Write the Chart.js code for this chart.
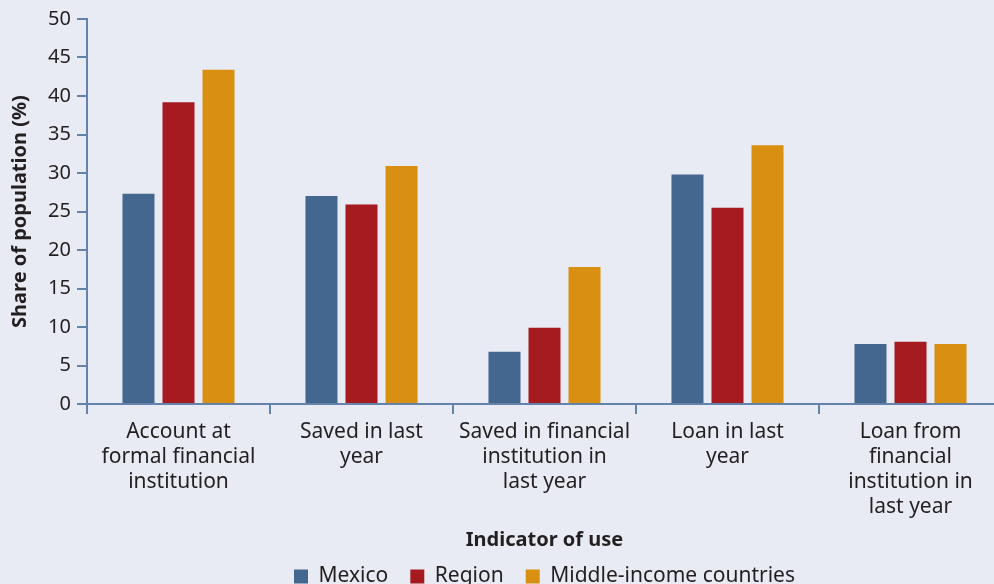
<!DOCTYPE html>
<html>
<head>
<meta charset="utf-8">
<script src="https://cdn.jsdelivr.net/npm/chart.js@4/dist/chart.umd.min.js"></script>
<style>
  html, body { margin: 0; padding: 0; overflow: hidden; background: #e8ebf3; }
  #wrap { position: absolute; left: 0; top: 0; width: 1002px; height: 605px; }
</style>
</head>
<body>
<div id="wrap"><canvas id="chart"></canvas></div>
<script>
/* Financial service use: Mexico vs region vs middle-income countries */

const categories = [
  ['Account at', 'formal financial', 'institution'],
  ['Saved in last', 'year'],
  ['Saved in financial', 'institution in', 'last year'],
  ['Loan in last', 'year'],
  ['Loan from', 'financial', 'institution in', 'last year'],
];
const mexico = [27.3, 27.0, 6.8, 29.8, 7.8];
const region = [39.2, 25.9, 9.9, 25.5, 8.1];
const middleIncome = [43.4, 30.9, 17.8, 33.6, 7.8];
const yTicks = [0, 5, 10, 15, 20, 25, 30, 35, 40, 45, 50];

const BLUE = '#44678f';
const RED = '#a51b20';
const ORANGE = '#d88f12';
const AXIS = '#6383ab';
const INK = '#231f20';
const FONT = "'Noto Sans', 'Liberation Sans', sans-serif";

// centre the legend under the plot area and nudge it up a touch
const legendShift = {
  id: 'legendShift',
  afterLayout(chart) {
    const lg = chart.legend, a = chart.chartArea;
    if (!lg) return;
    lg.left = a.left; lg.right = a.right; lg.width = a.right - a.left;
    lg.top -= 8; lg.bottom -= 8;
  },
};

const bar = (label, data, colour) => ({
  label, data,
  backgroundColor: colour,
  borderWidth: 0,
  barPercentage: 0.8,
  categoryPercentage: 0.656,
});

new Chart(document.getElementById('chart'), {
  type: 'bar',
  data: {
    labels: categories,
    datasets: [
      bar('Mexico', mexico, BLUE),
      bar('Region', region, RED),
      bar('Middle-income countries', middleIncome, ORANGE),
    ],
  },
  options: {
    responsive: true,
    maintainAspectRatio: false,
    animation: false,
    layout: { padding: { top: 19, left: 0, right: 0, bottom: 0 } },
    plugins: {
      tooltip: { enabled: false },
      legend: {
        position: 'bottom',
        align: 'center',
        labels: {
          color: INK,
          font: { family: FONT, size: 21 },
          boxWidth: 14,
          boxHeight: 14,
          padding: 22,
        },
      },
    },
    scales: {
      x: {
        afterFit: s => { s.height = 148; },
        grid: { drawOnChartArea: false, drawTicks: true, tickLength: 10, color: AXIS, lineWidth: 2 },
        border: { color: AXIS, width: 2 },
        ticks: {
          color: INK,
          autoSkip: false,
          maxRotation: 0,
          padding: 6,
          font: { family: FONT, size: 21, lineHeight: '25px' },
        },
        title: {
          display: true,
          text: 'Indicator of use',
          color: INK,
          font: { family: FONT, size: 20, weight: 'bold' },
          padding: { top: 0, bottom: 0 },
        },
      },
      y: {
        min: 0,
        max: 50,
        afterFit: s => { s.width = 87; },
        afterBuildTicks: s => { s.ticks = yTicks.map(v => ({ value: v })); },
        grid: { drawOnChartArea: false, drawTicks: true, tickLength: 10, color: AXIS, lineWidth: 2 },
        border: { color: AXIS, width: 2 },
        ticks: {
          color: INK,
          padding: 6,
          font: { family: FONT, size: 20 },
        },
        title: {
          display: true,
          text: 'Share of population (%)',
          color: INK,
          font: { family: FONT, size: 20, weight: 'bold' },
          padding: { top: 8, bottom: 0 },
        },
      },
    },
  },
  plugins: [legendShift],
});
</script>
</body>
</html>
